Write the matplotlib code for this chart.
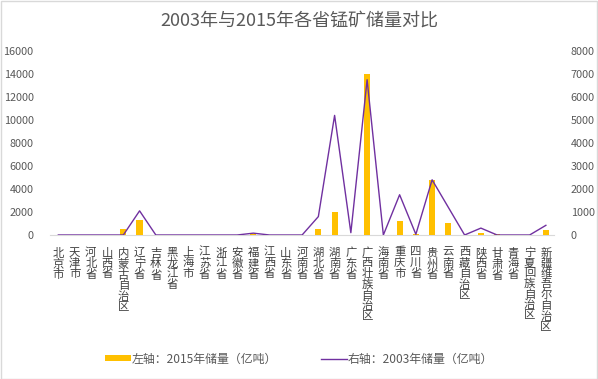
import matplotlib
matplotlib.use("Agg")
import matplotlib.pyplot as plt
from matplotlib.patches import Rectangle
from matplotlib.lines import Line2D
import numpy as np

plt.rcParams['font.family'] = ['Noto Sans CJK SC', 'DejaVu Sans']

provinces = ["北京市", "天津市", "河北省", "山西省", "内蒙古自治区", "辽宁省", "吉林省",
             "黑龙江省", "上海市", "江苏省", "浙江省", "安徽省", "福建省", "江西省",
             "山东省", "河南省", "湖北省", "湖南省", "广东省", "广西壮族自治区", "海南省",
             "重庆市", "四川省", "贵州省", "云南省", "西藏自治区", "陕西省", "甘肃省",
             "青海省", "宁夏回族自治区", "新疆维吾尔自治区"]
reserves_2015 = [0, 0, 0, 0, 550, 1300, 0, 0, 0, 0, 0, 0, 60, 0, 0, 0, 550, 2000, 0,
                 14000, 0, 1250, 100, 4800, 1050, 0, 150, 100, 0, 0, 450]
reserves_2003 = [0, 0, 0, 0, 0, 1050, 0, 0, 0, 0, 0, 0, 80, 0, 0, 0, 800, 5200, 100,
                 6750, 0, 1750, 30, 2400, 1200, 0, 300, 0, 0, 0, 420]
left_ticks = [0, 2000, 4000, 6000, 8000, 10000, 12000, 14000, 16000]
right_ticks = [0, 1000, 2000, 3000, 4000, 5000, 6000, 7000, 8000]

title = "2003年与2015年各省锰矿储量对比"
legend_bar = "左轴：2015年储量（亿吨）"
legend_line = "右轴：2003年储量（亿吨）"

gray = "#595959"
bar_color = "#FFC000"
line_color = "#7030A0"

W, H = 598, 379
fig = plt.figure(figsize=(W / 100, H / 100), dpi=100)
fig.patch.set_facecolor("white")
fig.add_artist(Rectangle((0.5 / W, 0.5 / H), 1 - 1.5 / W, 1 - 1.5 / H, transform=fig.transFigure,
                         fill=False, edgecolor="#D9D9D9", linewidth=1))

ax = fig.add_axes([50.2 / W, (H - 235) / H, (554 - 50.2) / W, (235 - 51) / H])
x = np.arange(len(provinces))
ax.bar(x, reserves_2015, width=0.38, color=bar_color, zorder=2)
ax.set_xlim(-0.5, len(provinces) - 0.5)
ax.set_ylim(0, 16000)
ax.set_yticks(left_ticks)
ax.set_yticklabels([str(v) for v in left_ticks])
ax.set_xticks(x)
ax.set_xticklabels(["\n".join(p) for p in provinces])
for t in ax.get_xticklabels():
    t.set_linespacing(1.0)
    t.set_fontsize(8.2)
    t.set_color("#404040")
ax.tick_params(axis="x", length=0, pad=9)
ax.tick_params(axis="y", length=0, pad=12, labelsize=7.8, labelcolor=gray)
for s in ["top", "left", "right"]:
    ax.spines[s].set_visible(False)
ax.spines["bottom"].set_color("#D9D9D9")
ax.spines["bottom"].set_zorder(1)

ax2 = ax.twinx()
ax2.plot(x, reserves_2003, color=line_color, linewidth=1.0, zorder=3)
ax2.set_ylim(0, 8000)
ax2.set_yticks(right_ticks)
ax2.set_yticklabels([str(v) for v in right_ticks])
ax2.tick_params(axis="y", length=0, pad=12, labelsize=7.8, labelcolor=gray)
for s in ["top", "left", "right", "bottom"]:
    ax2.spines[s].set_visible(False)

fig.text(0.5, 1 - 21 / H, title, ha="center", va="center", fontsize=13, color=gray)

handles = [Rectangle((0, 0), 1, 1, facecolor=bar_color, edgecolor="none"),
           Line2D([0], [0], color=line_color, linewidth=1.0)]
leg = fig.legend(handles, [legend_bar, legend_line], loc="center",
                 bbox_to_anchor=(0.5, 1 - 359 / H), ncol=2, frameon=False,
                 fontsize=8.6, handlelength=2.2, handleheight=0.45, handletextpad=0.1,
                 columnspacing=3.6)
for t in leg.get_texts():
    t.set_color(gray)

fig.savefig("out.png", dpi=100, facecolor="white")
